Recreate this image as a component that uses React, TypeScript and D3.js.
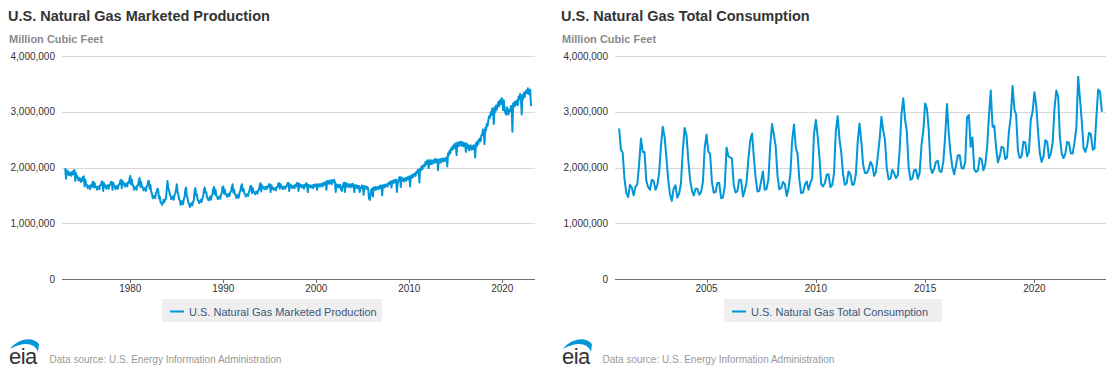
import React from "react";
import * as d3 from "d3";

// ---------- DATA (values in thousand MMcf; monthly) ----------
const productionStart = { year: 1973, month: 0 };
// U.S. Natural Gas Marketed Production, Jan 1973 – Feb 2023 (thousand MMcf)
const productionMonthly: number[] = [
  1990, 1800, 1950, 1880, 1930, 1860, 1900, 1910, 1850, 1920, 1880, 1950, // 1973
  1950, 1760, 1900, 1820, 1840, 1770, 1810, 1800, 1740, 1800, 1760, 1830, // 1974
  1840, 1660, 1780, 1700, 1690, 1630, 1660, 1670, 1610, 1680, 1650, 1720, // 1975
  1750, 1640, 1720, 1650, 1660, 1600, 1650, 1660, 1610, 1680, 1680, 1740, // 1976
  1750, 1580, 1720, 1660, 1680, 1620, 1660, 1680, 1620, 1690, 1690, 1740, // 1977
  1740, 1600, 1730, 1660, 1670, 1610, 1650, 1670, 1620, 1690, 1700, 1760, // 1978
  1780, 1630, 1760, 1700, 1720, 1660, 1700, 1710, 1660, 1730, 1720, 1790, // 1979
  1850, 1700, 1780, 1680, 1670, 1600, 1640, 1650, 1600, 1680, 1680, 1760, // 1980
  1810, 1650, 1740, 1660, 1650, 1590, 1620, 1630, 1580, 1660, 1670, 1750, // 1981
  1760, 1620, 1680, 1560, 1530, 1450, 1480, 1490, 1450, 1530, 1560, 1620, // 1982
  1600, 1450, 1480, 1380, 1360, 1330, 1360, 1420, 1380, 1430, 1440, 1600, // 1983
  1760, 1620, 1600, 1520, 1490, 1430, 1450, 1480, 1420, 1500, 1530, 1600, // 1984
  1700, 1560, 1520, 1430, 1410, 1330, 1370, 1400, 1340, 1430, 1470, 1600, // 1985
  1640, 1480, 1450, 1370, 1340, 1290, 1340, 1360, 1320, 1380, 1420, 1580, // 1986
  1630, 1500, 1520, 1420, 1400, 1360, 1400, 1420, 1380, 1450, 1480, 1590, // 1987
  1640, 1550, 1560, 1470, 1440, 1410, 1440, 1480, 1420, 1490, 1520, 1620, // 1988
  1650, 1520, 1600, 1490, 1480, 1430, 1450, 1480, 1440, 1510, 1540, 1650, // 1989
  1660, 1530, 1600, 1520, 1520, 1470, 1500, 1530, 1490, 1560, 1570, 1650, // 1990
  1700, 1550, 1600, 1520, 1510, 1450, 1480, 1510, 1460, 1550, 1580, 1660, // 1991
  1700, 1580, 1620, 1540, 1530, 1480, 1510, 1520, 1490, 1560, 1590, 1670, // 1992
  1670, 1540, 1630, 1560, 1560, 1520, 1560, 1570, 1530, 1590, 1600, 1680, // 1993
  1720, 1570, 1680, 1630, 1650, 1610, 1640, 1660, 1610, 1660, 1650, 1700, // 1994
  1700, 1560, 1680, 1620, 1640, 1600, 1620, 1630, 1590, 1650, 1650, 1710, // 1995
  1720, 1620, 1700, 1640, 1660, 1610, 1650, 1660, 1620, 1670, 1670, 1720, // 1996
  1720, 1580, 1700, 1650, 1680, 1630, 1660, 1670, 1630, 1690, 1660, 1720, // 1997
  1720, 1580, 1710, 1660, 1690, 1640, 1680, 1680, 1620, 1690, 1660, 1720, // 1998
  1700, 1560, 1690, 1650, 1680, 1640, 1670, 1680, 1630, 1690, 1660, 1700, // 1999
  1690, 1600, 1700, 1660, 1700, 1660, 1700, 1710, 1660, 1720, 1690, 1730, // 2000
  1740, 1600, 1760, 1710, 1760, 1710, 1760, 1770, 1700, 1770, 1740, 1780, // 2001
  1740, 1560, 1700, 1650, 1690, 1640, 1680, 1690, 1600, 1580, 1650, 1710, // 2002
  1730, 1560, 1720, 1660, 1710, 1650, 1690, 1700, 1640, 1700, 1660, 1710, // 2003
  1690, 1560, 1680, 1640, 1680, 1630, 1670, 1670, 1560, 1640, 1630, 1680, // 2004
  1660, 1510, 1670, 1620, 1660, 1620, 1650, 1620, 1440, 1420, 1510, 1600, // 2005
  1620, 1480, 1640, 1600, 1650, 1600, 1640, 1650, 1610, 1660, 1630, 1680, // 2006
  1670, 1500, 1680, 1640, 1690, 1650, 1690, 1700, 1660, 1720, 1700, 1740, // 2007
  1750, 1640, 1760, 1720, 1770, 1730, 1780, 1780, 1560, 1720, 1770, 1820, // 2008
  1830, 1650, 1820, 1770, 1800, 1750, 1800, 1810, 1760, 1820, 1790, 1840, // 2009
  1820, 1660, 1850, 1810, 1870, 1830, 1880, 1890, 1850, 1920, 1900, 1960, // 2010
  1960, 1730, 1980, 1950, 2020, 1970, 2030, 2050, 2020, 2100, 2060, 2130, // 2011
  2120, 1990, 2130, 2060, 2130, 2060, 2120, 2130, 2080, 2150, 2100, 2150, // 2012
  2130, 1950, 2140, 2090, 2150, 2090, 2150, 2160, 2110, 2160, 2120, 2150, // 2013
  2180, 2020, 2250, 2220, 2300, 2260, 2340, 2360, 2320, 2400, 2350, 2430, // 2014
  2420, 2220, 2450, 2380, 2450, 2390, 2460, 2460, 2390, 2450, 2380, 2440, // 2015
  2420, 2280, 2430, 2350, 2400, 2310, 2390, 2400, 2320, 2380, 2330, 2400, // 2016
  2380, 2180, 2440, 2380, 2470, 2420, 2500, 2520, 2470, 2580, 2580, 2680, // 2017
  2640, 2420, 2710, 2660, 2780, 2740, 2850, 2920, 2890, 2990, 2940, 3060, // 2018
  3040, 2780, 3080, 2990, 3110, 3040, 3120, 3180, 3100, 3200, 3140, 3240, // 2019
  3230, 3030, 3200, 3030, 2980, 2950, 3080, 3040, 2950, 3030, 3010, 3100, // 2020
  3100, 2640, 3150, 3090, 3180, 3110, 3190, 3200, 3120, 3270, 3220, 3320, // 2021
  3230, 2950, 3300, 3230, 3340, 3270, 3360, 3380, 3330, 3420, 3340, 3310, // 2022
  3400, 3100, // 2023
];

const consumptionStart = { year: 2001, month: 0 };
// U.S. Natural Gas Total Consumption, Jan 2001 – Feb 2023 (thousand MMcf)
const consumptionMonthly: number[] = [
  2700, 2320, 2270, 1800, 1550, 1470, 1690, 1640, 1500, 1650, 1700, 2050, // 2001
  2520, 2280, 2280, 1760, 1650, 1600, 1780, 1760, 1600, 1680, 1900, 2380, // 2002
  2730, 2540, 2200, 1780, 1520, 1400, 1620, 1680, 1460, 1530, 1720, 2300, // 2003
  2710, 2580, 2150, 1780, 1590, 1500, 1620, 1620, 1510, 1560, 1740, 2350, // 2004
  2590, 2280, 2250, 1740, 1550, 1560, 1720, 1720, 1450, 1460, 1650, 2360, // 2005
  2200, 2180, 2160, 1680, 1550, 1580, 1780, 1780, 1480, 1580, 1750, 2150, // 2006
  2480, 2610, 2200, 1820, 1570, 1580, 1750, 1930, 1600, 1620, 1790, 2400, // 2007
  2780, 2580, 2380, 1850, 1610, 1630, 1740, 1700, 1490, 1620, 1880, 2480, // 2008
  2770, 2350, 2250, 1780, 1540, 1550, 1690, 1750, 1600, 1720, 1800, 2600, // 2009
  2850, 2560, 2200, 1700, 1660, 1720, 1870, 1880, 1650, 1680, 1900, 2650, // 2010
  2920, 2500, 2280, 1880, 1690, 1720, 1930, 1880, 1690, 1700, 1880, 2450, // 2011
  2790, 2450, 2050, 1900, 1900, 1960, 2100, 2040, 1850, 1920, 2200, 2500, // 2012
  2910, 2650, 2500, 1980, 1790, 1800, 1960, 1900, 1810, 1860, 2300, 2950, // 2013
  3240, 2850, 2650, 2000, 1780, 1800, 1950, 1960, 1800, 1900, 2400, 2650, // 2014
  3150, 3050, 2700, 2000, 1900, 1980, 2100, 2120, 1930, 1920, 2100, 2550, // 2015
  3140, 2600, 2250, 2000, 1880, 2050, 2220, 2220, 1990, 1980, 2100, 2900, // 2016
  2940, 2370, 2540, 1970, 1920, 1950, 2170, 2150, 1950, 2050, 2350, 2900, // 2017
  3380, 2730, 2750, 2350, 2090, 2200, 2370, 2360, 2150, 2180, 2650, 2900, // 2018
  3460, 3040, 2950, 2300, 2170, 2200, 2460, 2450, 2200, 2280, 2850, 3000, // 2019
  3350, 3100, 2650, 2250, 2100, 2200, 2490, 2460, 2170, 2250, 2450, 3050, // 2020
  3380, 3270, 2550, 2250, 2170, 2250, 2460, 2440, 2250, 2250, 2450, 2700, // 2021
  3630, 3220, 2850, 2350, 2280, 2400, 2620, 2600, 2320, 2340, 2900, 3400, // 2022
  3360, 3000, // 2023
];

const yTickValues = [0, 1000000, 2000000, 3000000, 4000000];
const productionTitle = "U.S. Natural Gas Marketed Production";
const consumptionTitle = "U.S. Natural Gas Total Consumption";
const unitLabel = "Million Cubic Feet";
const sourceLabel = "Data source: U.S. Energy Information Administration";

// ---------- helpers ----------
type Pt = { date: Date; value: number };
function toSeries(start: { year: number; month: number }, vals: number[]): Pt[] {
  return vals.map((v, i) => ({
    date: new Date(start.year, start.month + i, 1),
    value: v * 1000,
  }));
}

function fracYearToDate(y: number): Date {
  const yr = Math.floor(y);
  const s = new Date(yr, 0, 1).getTime();
  const e = new Date(yr + 1, 0, 1).getTime();
  return new Date(s + (e - s) * (y - yr));
}

const FONT = "'Liberation Sans', Arial, Helvetica, sans-serif";
const LINE_COLOR = "#0096d7";

type PanelProps = {
  ox: number;
  title: string;
  data: Pt[];
  plotX0: number;
  plotX1: number;
  domainStart: number;
  domainEnd: number;
  tickEvery: number;
  legendX: number;
  legendW: number;
};

function Panel(p: PanelProps) {
  const plotTop = 56;
  const plotBottom = 279;
  const x = d3
    .scaleTime()
    .domain([fracYearToDate(p.domainStart), fracYearToDate(p.domainEnd)])
    .range([p.plotX0, p.plotX1]);
  const y = d3.scaleLinear().domain([0, 4000000]).range([plotBottom, plotTop]);
  const line = d3
    .line<Pt>()
    .x((d) => x(d.date))
    .y((d) => y(d.value))
    .curve(d3.curveLinear);
  const xTicks = x.ticks(d3.timeYear.every(p.tickEvery) as any);
  const fmt = d3.format(",");
  const ox = p.ox;
  return (
    <g fontFamily={FONT}>
      <text x={ox + 8} y={20.5} fontSize={14.5} fontWeight="bold" fill="#333333">
        {p.title}
      </text>
      <text x={ox + 9} y={42.5} fontSize={11} fontWeight="bold" fill="#8a8a8a">
        {unitLabel}
      </text>
      {yTickValues.map((t) => (
        <g key={t}>
          <line
            x1={p.plotX0}
            x2={p.plotX1}
            y1={Math.round(y(t)) + 0.5}
            y2={Math.round(y(t)) + 0.5}
            stroke={t === 0 ? "#6e6e6e" : "#d8d8d8"}
            strokeWidth={1}
          />
          <text
            x={ox + 55}
            y={y(t) + 3.5}
            fontSize={10}
            textAnchor="end"
            fill="#333333"
          >
            {fmt(t)}
          </text>
        </g>
      ))}
      {xTicks.map((t) => (
        <g key={t.getTime()}>
          <line
            x1={Math.round(x(t)) + 0.5}
            x2={Math.round(x(t)) + 0.5}
            y1={plotBottom}
            y2={plotBottom + 4}
            stroke="#6e6e6e"
          />
          <text x={x(t)} y={292} fontSize={10} textAnchor="middle" fill="#333333">
            {d3.timeFormat("%Y")(t)}
          </text>
        </g>
      ))}
      <path
        d={line(p.data) || ""}
        fill="none"
        stroke={LINE_COLOR}
        strokeWidth={2}
        strokeLinejoin="round"
      />
      <rect x={p.legendX} y={299} width={p.legendW} height={23} fill="#efefef" />
      <line
        x1={p.legendX + 8}
        x2={p.legendX + 22}
        y1={311.5}
        y2={311.5}
        stroke={LINE_COLOR}
        strokeWidth={2}
      />
      <text x={p.legendX + 27} y={315.5} fontSize={11} fill="#3c5677">
        {p.title}
      </text>
      {/* eia logo */}
      <path
        d={`M${ox + 10},${349} C${ox + 18},${338} ${ox + 33},${336} ${ox + 39},${344} L${ox + 38},${352} C${ox + 35},${343} ${ox + 24},${341} ${ox + 10},${349} Z`}
        fill={LINE_COLOR}
      />
      <text x={ox + 9} y={363.5} fontSize={22} fill="#333333" letterSpacing={-0.5}>
        eia
      </text>
      <text x={ox + 49.5} y={362.5} fontSize={10} fill="#999999">
        {sourceLabel}
      </text>
    </g>
  );
}

export default function App() {
  const prod = toSeries(productionStart, productionMonthly);
  const cons = toSeries(consumptionStart, consumptionMonthly);
  return (
    <svg
      width={1114}
      height={375}
      style={{ position: "absolute", left: 0, top: 0, background: "#ffffff" }}
    >
      <rect width={1114} height={375} fill="#ffffff" />
      <Panel
        ox={0}
        title={productionTitle}
        data={prod}
        plotX0={62}
        plotX1={535}
        domainStart={1972.656}
        domainEnd={2023.516}
        tickEvery={10}
        legendX={162}
        legendW={220}
      />
      <Panel
        ox={553}
        title={consumptionTitle}
        data={cons}
        plotX0={615}
        plotX1={1106}
        domainStart={2000.813}
        domainEnd={2023.274}
        tickEvery={5}
        legendX={724}
        legendW={218}
      />
    </svg>
  );
}
